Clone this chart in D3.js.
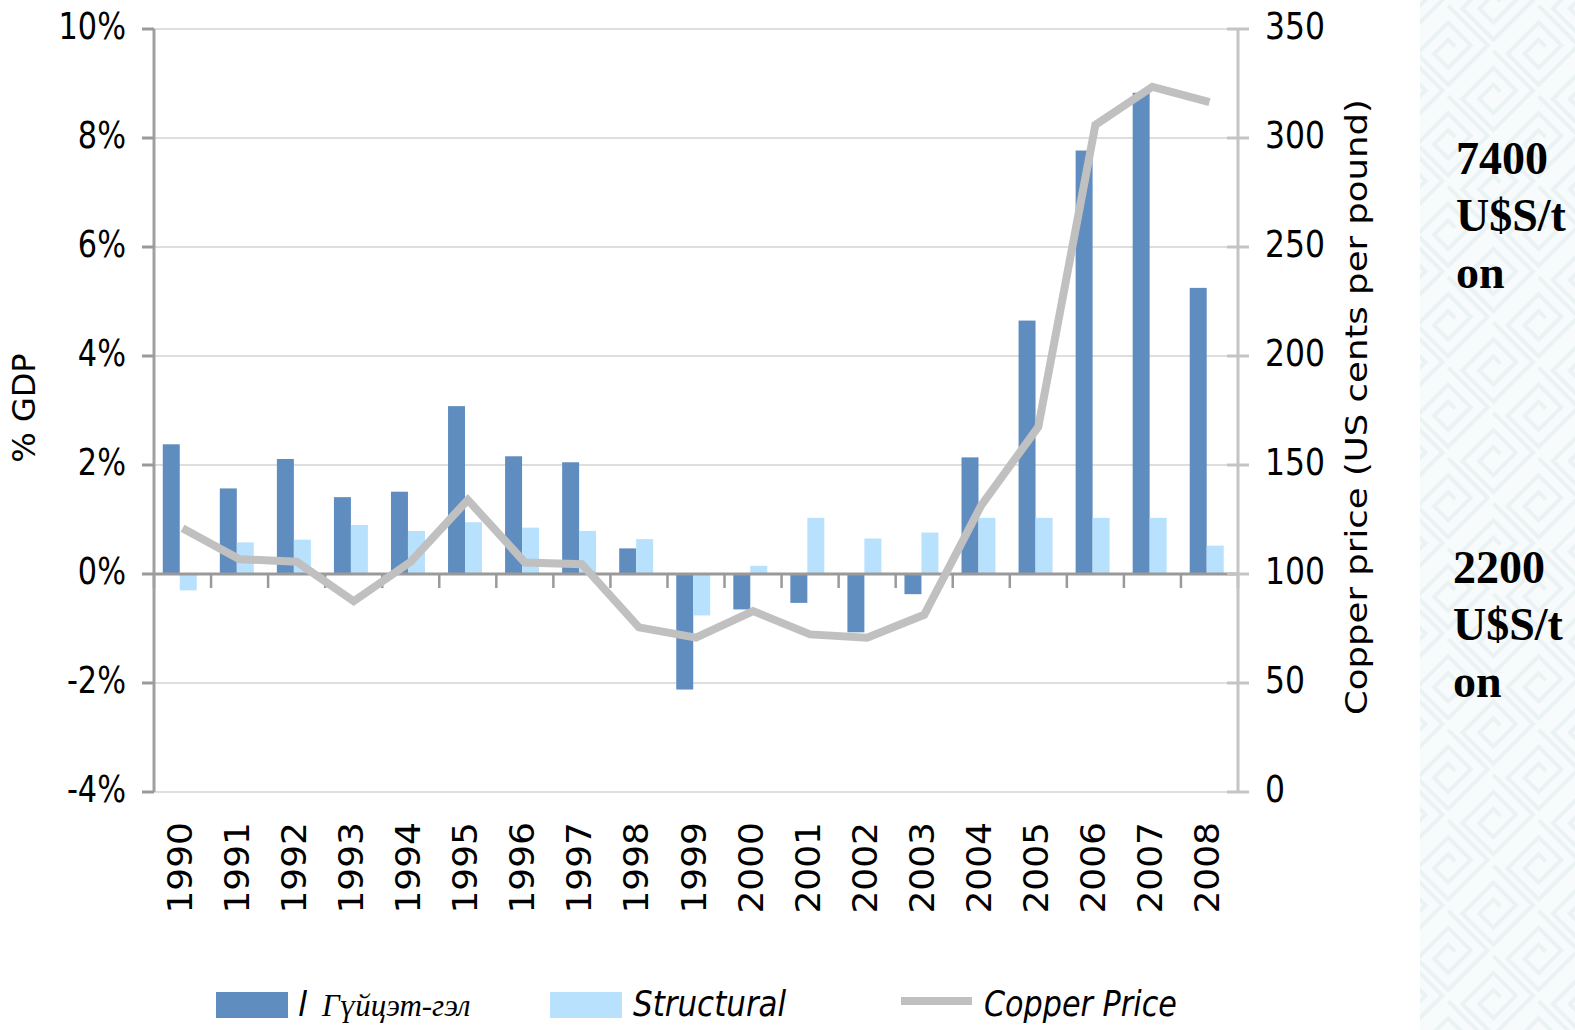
<!DOCTYPE html>
<html><head><meta charset="utf-8">
<script src="https://cdn.jsdelivr.net/npm/d3@7"></script>
<style>body{margin:0;background:#fff}svg{display:block}</style></head>
<body>
<script>
// ---- data ----
const years = ["1990","1991","1992","1993","1994","1995","1996","1997","1998","1999","2000","2001","2002","2003","2004","2005","2006","2007","2008"];
const actualGap = [2.38,1.57,2.11,1.41,1.51,3.08,2.16,2.05,0.47,-2.12,-0.65,-0.53,-1.07,-0.37,2.14,4.65,7.77,8.83,5.25];
const structuralGap = [-0.30,0.58,0.63,0.90,0.79,0.95,0.85,0.79,0.64,-0.76,0.15,1.03,0.65,0.76,1.03,1.03,1.03,1.03,0.52];
const copperPrice = [121,106.8,105.6,87.5,105.6,134,105.3,104.5,75.5,70.8,83,72.3,70.8,81.3,131.5,167.5,306,323.5,316.5];
const leftTicks = [-4,-2,0,2,4,6,8,10];
const rightTicks = [0,50,100,150,200,250,300,350];
const seriesKeys = ["actual","structural"];
const legendLabels = ["Гүйцэт-гэл","Structural","Copper Price"];
const noteHigh = ["7400","U$S/t","on"];
const noteLow = ["2200","U$S/t","on"];

// ---- layout ----
const W = 1575, H = 1030;
const plot = {left:154, right:1238, top:29, bottom:792};
const colors = {actual:"#608dbf", structural:"#b7e1fc", copper:"#c0c0c0"};
const sans = "'DejaVu Sans', sans-serif";

const svg = d3.select("body").append("svg").attr("width", W).attr("height", H);

// right decorative panel
const defs = svg.append("defs");
const pat = defs.append("pattern").attr("id","maze").attr("patternUnits","userSpaceOnUse")
  .attr("width",64).attr("height",64).attr("patternTransform","rotate(45)");
pat.append("path").attr("d","M4,4 H60 V60 H16 V16 H48 V48 H28 V28 H38")
  .attr("fill","none").attr("stroke","#ebf2f4").attr("stroke-width",4);
svg.append("rect").attr("x",1420).attr("y",0).attr("width",W-1420).attr("height",H).attr("fill","#f8fbfc");
svg.append("rect").attr("x",1420).attr("y",0).attr("width",W-1420).attr("height",H).attr("fill","url(#maze)");

const x0 = d3.scaleBand().domain(years).range([plot.left, plot.right]).padding(0);
const x1 = d3.scaleBand().domain(seriesKeys).range([0, x0.bandwidth()])
  .paddingInner(0).paddingOuter(0.68).align(0.38);
const yL = d3.scaleLinear().domain([-4,10]).range([plot.bottom, plot.top]);
const yR = d3.scaleLinear().domain([0,350]).range([plot.bottom, plot.top]);

// gridlines
svg.append("g").selectAll("line").data(leftTicks.filter(t => t !== 0)).join("line")
  .attr("x1", plot.left).attr("x2", plot.right)
  .attr("y1", d => yL(d)).attr("y2", d => yL(d))
  .attr("stroke","#d3d3d3").attr("stroke-width",1.5);

// bars
const rows = years.map((y,i) => ({year:y, actual:actualGap[i], structural:structuralGap[i]}));
const barG = svg.append("g");
seriesKeys.forEach(k => {
  barG.selectAll("rect."+k).data(rows).join("rect").attr("class",k)
    .attr("x", d => x0(d.year) + x1(k))
    .attr("width", x1.bandwidth())
    .attr("y", d => yL(Math.max(0, d[k])))
    .attr("height", d => Math.abs(yL(d[k]) - yL(0)))
    .attr("fill", colors[k]);
});

// zero axis with category ticks
svg.append("line").attr("x1",plot.left).attr("x2",plot.right)
  .attr("y1",yL(0)).attr("y2",yL(0)).attr("stroke","#9a9a9a").attr("stroke-width",3);
const bounds = years.map(y => x0(y)).concat([plot.right]);
svg.append("g").selectAll("line").data(bounds).join("line")
  .attr("x1", d => d).attr("x2", d => d)
  .attr("y1", yL(0)).attr("y2", yL(0) + 14)
  .attr("stroke","#9a9a9a").attr("stroke-width",2.5);

// left axis
svg.append("line").attr("x1",plot.left).attr("x2",plot.left)
  .attr("y1",plot.top).attr("y2",plot.bottom).attr("stroke","#a0a0a0").attr("stroke-width",3);
svg.append("g").selectAll("line").data(leftTicks).join("line")
  .attr("x1", plot.left - 12).attr("x2", plot.left)
  .attr("y1", d => yL(d)).attr("y2", d => yL(d))
  .attr("stroke","#9a9a9a").attr("stroke-width",3);
svg.append("g").selectAll("text").data(leftTicks).join("text")
  .attr("transform", d => `translate(126,${yL(d)+10}) scale(0.82,1)`)
  .attr("text-anchor","end").attr("font-family",sans).attr("font-size",37).attr("fill","#000")
  .text(d => d + "%");

// right axis
svg.append("line").attr("x1",plot.right).attr("x2",plot.right)
  .attr("y1",plot.top).attr("y2",plot.bottom).attr("stroke","#c4c4c4").attr("stroke-width",3);
svg.append("g").selectAll("line").data(rightTicks).join("line")
  .attr("x1", plot.right - 11).attr("x2", plot.right + 11)
  .attr("y1", d => yR(d)).attr("y2", d => yR(d))
  .attr("stroke","#c4c4c4").attr("stroke-width",3);
svg.append("g").selectAll("text").data(rightTicks).join("text")
  .attr("transform", d => `translate(1265,${yR(d)+10}) scale(0.85,1)`)
  .attr("text-anchor","start").attr("font-family",sans).attr("font-size",37).attr("fill","#000")
  .text(d => d);

// copper line
const line = d3.line().x((d,i) => x0(years[i]) + x0.bandwidth()/2).y(d => yR(d));
svg.append("path").datum(copperPrice).attr("d", line)
  .attr("fill","none").attr("stroke",colors.copper).attr("stroke-width",8);

// year labels
svg.append("g").selectAll("text").data(years).join("text")
  .attr("transform", d => `translate(${x0(d) + x0.bandwidth()/2 + 9.5},822) scale(0.95,1) rotate(-90)`)
  .attr("text-anchor","end").attr("font-family",sans).attr("font-size",36).attr("fill","#000")
  .text(d => d);

// axis titles
svg.append("text").attr("transform","translate(35,408) rotate(-90)")
  .attr("text-anchor","middle").attr("font-family",sans).attr("font-size",32).text("% GDP");
svg.append("text").attr("transform","translate(1367,407) scale(0.85,1) rotate(-90)")
  .attr("text-anchor","middle").attr("font-family",sans).attr("font-size",35.5)
  .text("Copper price (US cents per pound)");

// legend
const lg = svg.append("g");
lg.append("rect").attr("x",216).attr("y",992).attr("width",72).attr("height",26).attr("fill",colors.actual);
const t1 = lg.append("text").attr("transform","translate(298,1016)");
t1.append("tspan").attr("font-family",sans).attr("font-style","italic").attr("font-size",33).text("l");
t1.append("tspan").attr("x",24).attr("font-family","'Liberation Serif', serif").attr("font-style","italic").attr("font-size",31).text(legendLabels[0]);
lg.append("rect").attr("x",550).attr("y",992).attr("width",72).attr("height",26).attr("fill",colors.structural);
lg.append("text").attr("transform","translate(633,1016) scale(0.86,1)")
  .attr("font-family",sans).attr("font-style","italic").attr("font-size",36).text(legendLabels[1]);
lg.append("line").attr("x1",901).attr("x2",972).attr("y1",1001).attr("y2",1001)
  .attr("stroke",colors.copper).attr("stroke-width",8);
lg.append("text").attr("transform","translate(984,1016) scale(0.84,1)")
  .attr("font-family",sans).attr("font-style","italic").attr("font-size",36).text(legendLabels[2]);

// notes on the right panel
const serifBold = "'Liberation Serif', 'Times New Roman', serif";
svg.append("g").selectAll("text").data(noteHigh).join("text")
  .attr("x",1456).attr("y",(d,i) => 174 + i*57)
  .attr("font-family",serifBold).attr("font-weight","bold").attr("font-size",46).text(d => d);
svg.append("g").selectAll("text").data(noteLow).join("text")
  .attr("x",1453).attr("y",(d,i) => 583 + i*57)
  .attr("font-family",serifBold).attr("font-weight","bold").attr("font-size",46).text(d => d);
</script>
</body></html>
